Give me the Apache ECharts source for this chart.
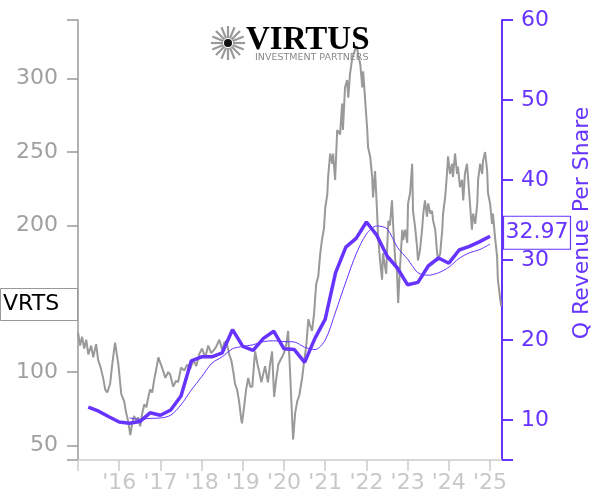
<!DOCTYPE html>
<html><head><meta charset="utf-8">
<script src="https://cdn.jsdelivr.net/npm/echarts@6/dist/echarts.min.js"></script>
<style>html,body{margin:0;padding:0;background:#fff}#c{width:600px;height:500px}</style>
</head><body><div id="c"></div>
<script>
const ticker = 'VRTS';
const rightAxisTitle = 'Q Revenue Per Share';

// Daily closing price (decimal year, USD)
const priceDates = [
2015.00,2015.05,2015.10,2015.15,2015.20,2015.25,2015.32,2015.37,2015.44,2015.49,
2015.54,2015.61,2015.66,2015.71,2015.78,2015.83,2015.90,2015.98,2016.05,2016.12,
2016.17,2016.22,2016.27,2016.32,2016.36,2016.41,2016.46,2016.51,2016.56,2016.61,
2016.66,2016.70,2016.75,2016.80,2016.85,2016.90,2016.95,2017.00,2017.04,2017.12,
2017.19,2017.24,2017.31,2017.38,2017.43,2017.50,2017.58,2017.65,2017.72,2017.80,
2017.87,2017.94,2018.01,2018.09,2018.16,2018.23,2018.30,2018.35,2018.43,2018.50,
2018.55,2018.60,2018.67,2018.72,2018.77,2018.81,2018.86,2018.91,2018.96,2018.98,
2019.03,2019.08,2019.13,2019.18,2019.23,2019.28,2019.30,2019.35,2019.40,2019.45,
2019.49,2019.54,2019.59,2019.61,2019.66,2019.71,2019.76,2019.81,2019.86,2019.91,
2019.95,2020.00,2020.05,2020.10,2020.15,2020.17,2020.22,2020.27,2020.32,2020.37,
2020.44,2020.49,2020.54,2020.59,2020.63,2020.68,2020.73,2020.78,2020.83,2020.88,
2020.92,2020.97,2021.00,2021.05,2021.07,2021.12,2021.17,2021.19,2021.24,2021.29,
2021.36,2021.41,2021.43,2021.48,2021.53,2021.56,2021.60,2021.65,2021.68,2021.73,
2021.77,2021.80,2021.85,2021.90,2021.92,2021.97,2022.02,2022.04,2022.09,2022.14,
2022.16,2022.21,2022.26,2022.28,2022.33,2022.38,2022.40,2022.48,2022.53,2022.57,
2022.62,2022.65,2022.70,2022.74,2022.77,2022.82,2022.87,2022.89,2022.94,2022.99,
2023.01,2023.06,2023.11,2023.13,2023.18,2023.23,2023.25,2023.30,2023.35,2023.38,
2023.42,2023.47,2023.50,2023.55,2023.59,2023.62,2023.67,2023.71,2023.74,2023.79,
2023.84,2023.86,2023.91,2023.96,2023.98,2024.03,2024.08,2024.10,2024.15,2024.20,
2024.22,2024.27,2024.32,2024.35,2024.39,2024.44,2024.47,2024.52,2024.56,2024.59,
2024.64,2024.69,2024.71,2024.76,2024.81,2024.83,2024.88,2024.93,2024.95,2025.00,
2025.05,2025.07,2025.12,2025.17,2025.19,2025.24,2025.27];
const priceValues = [
127,118,124,116,122,112,118,110,119,108,
104,96,88,86,92,105,120,105,85,80,
72,66,57,66,70,67,69,63,72,78,
76,82,88,86,95,102,110,106,103,96,
100,98,90,94,93,103,101,105,102,108,
104,112,116,110,118,113,115,117,122,115,
120,121,112,108,100,92,88,80,68,65,
76,88,96,90,90,108,114,106,100,93,
98,104,96,93,105,114,83,95,105,108,
110,113,118,128,98,85,54,72,80,84,
96,108,118,136,132,128,140,160,165,181,
190,198,212,221,233,249,242,249,231,265,
262,283,265,294,299,287,303,313,316,320,
322,316,310,294,305,285,265,253,247,233,
219,237,208,194,176,163,181,167,203,200,
217,199,176,169,147,174,197,190,197,188,
215,222,242,210,199,185,176,183,197,208,
217,206,215,208,210,203,197,183,176,181,
197,208,219,237,247,235,242,233,249,235,
240,226,231,217,235,242,231,212,197,208,
201,215,231,242,235,244,250,237,222,215,
201,208,192,179,163,151,145];

// Quarterly revenue per share (quarter end as decimal year)
const revQuarters = [2015.25,2015.5,2015.75,2016.0,2016.25,2016.5,2016.75,2017.0,2017.25,2017.5,
2017.75,2018.0,2018.25,2018.5,2018.75,2019.0,2019.25,2019.5,2019.75,2020.0,
2020.25,2020.5,2020.75,2021.0,2021.25,2021.5,2021.75,2022.0,2022.25,2022.5,
2022.75,2023.0,2023.25,2023.5,2023.75,2024.0,2024.25,2024.5,2024.75,2025.0];
const revValues = [11.6,11.1,10.4,9.75,9.6,9.8,10.9,10.6,11.25,13.0,
17.4,17.9,17.9,18.4,21.3,19.2,18.7,20.2,21.1,18.9,
18.8,17.2,20.2,22.6,28.4,31.6,32.7,34.75,33.1,30.5,
29.0,26.9,27.2,29.25,30.25,29.6,31.25,31.7,32.3,32.97];

// Thin trailing line of revenue per share
const avgQuarters = [2016.25,2016.5,2016.75,2017.0,2017.25,2017.5,
2017.75,2018.0,2018.25,2018.5,2018.75,2019.0,2019.25,2019.5,2019.75,2020.0,
2020.25,2020.5,2020.75,2021.0,2021.25,2021.5,2021.75,2022.0,2022.25,2022.5,
2022.75,2023.0,2023.25,2023.5,2023.75,2024.0,2024.25,2024.5,2024.75,2025.0];
const avgValues = [10.25,10.1,10.2,10.25,10.6,11.9,
13.75,15.4,17.1,17.9,18.9,19.2,19.4,19.8,19.9,19.8,
19.75,19.1,18.8,20.0,23.5,27.25,30.75,33.25,34.25,33.9,
31.6,30.1,28.4,28.1,28.4,29.1,30.2,30.9,31.3,32.0];

const leftTickLabels = [50,100,200,250,300];
const leftTickMarks = [40,50,100,150,200,250,300,340];
const rightTickLabels = [10,20,30,40,50,60];
const rightTickMarks = [5,10,20,30,40,50,60];

const GRAY = '#999999';
const PURPLE = '#6633ff';
const FONT = 'DejaVu Sans';

const zip = (a, b) => a.map((v, i) => [v, b[i]]);

const chart = echarts.init(document.getElementById('c'), null, {renderer: 'canvas'});

function starRays() {
  const els = [];
  const cx = 228, cy = 43, n = 16;
  for (let i = 0; i < n; i++) {
    const a = i * Math.PI * 2 / n;
    els.push({type: 'line', shape: {x1: cx + Math.cos(a) * 5, y1: cy + Math.sin(a) * 5,
      x2: cx + Math.cos(a) * 17, y2: cy + Math.sin(a) * 17},
      style: {stroke: '#9a9a9a', lineWidth: 2.2}, z: 100});
  }
  els.push({type: 'circle', shape: {cx: cx, cy: cy, r: 4}, style: {fill: '#111'}, z: 101});
  return els;
}

chart.setOption({
  animation: false,
  backgroundColor: '#fff',
  grid: {left: 78, right: 98, top: 20, bottom: 40},
  xAxis: {
    type: 'value', min: 2015, max: 2025.29, interval: 1,
    axisLine: {onZero: false, lineStyle: {color: '#cccccc', width: 1.5}},
    axisTick: {length: 11, lineStyle: {color: '#cccccc', width: 1.5}},
    axisLabel: {formatter: v => v === 2015 ? '' : "'" + String(v).slice(2),
      color: '#c8c8c8', fontSize: 22, fontFamily: FONT, margin: 12},
    splitLine: {show: false}
  },
  yAxis: [{
    type: 'value', min: 40, max: 340, position: 'left',
    axisLine: {show: true, onZero: false, lineStyle: {color: GRAY, width: 1.5}},
    axisTick: {show: true, length: 11, customValues: leftTickMarks, lineStyle: {color: GRAY, width: 1.5}},
    axisLabel: {customValues: leftTickLabels, color: '#a0a0a0', fontSize: 22, fontFamily: FONT, margin: 20},
    splitLine: {show: false}
  }, {
    type: 'value', min: 5, max: 60, position: 'right',
    axisLine: {show: true, onZero: false, lineStyle: {color: PURPLE, width: 2}},
    axisTick: {show: true, length: 11, customValues: rightTickMarks, lineStyle: {color: PURPLE, width: 2}},
    axisLabel: {customValues: rightTickLabels, color: PURPLE, fontSize: 22, fontFamily: FONT, margin: 19},
    splitLine: {show: false}
  }],
  series: [{
    name: 'Price', type: 'line', yAxisIndex: 0, data: zip(priceDates, priceValues),
    showSymbol: false, lineStyle: {color: GRAY, width: 2}, z: 2
  }, {
    name: 'Avg', type: 'line', yAxisIndex: 1, data: zip(avgQuarters, avgValues),
    showSymbol: false, smooth: 0.3, lineStyle: {color: PURPLE, width: 1}, z: 3
  }, {
    name: 'Rev', type: 'line', yAxisIndex: 1, data: zip(revQuarters, revValues),
    showSymbol: false, lineStyle: {color: PURPLE, width: 3.5}, z: 4
  }],
  graphic: [
    ...starRays(),
    {type: 'text', z: 100, style: {x: 246, y: 40, text: 'VIRTUS', font: 'bold 33px "Liberation Serif"',
      fill: '#000', verticalAlign: 'middle', align: 'left'}},
    {type: 'text', z: 100, style: {x: 255, y: 58, text: 'INVESTMENT PARTNERS', font: '9.5px "DejaVu Sans"',
      fill: '#888888', verticalAlign: 'middle', align: 'left'}},
    {type: 'text', z: 100, x: 582, y: 223, rotation: Math.PI / 2,
      style: {x: 0, y: 0, text: rightAxisTitle, font: '22px "DejaVu Sans"', fill: PURPLE,
        align: 'center', verticalAlign: 'middle'}}
  ]
});

const lastPrice = priceValues[priceValues.length - 1];
const lastRev = revValues[revValues.length - 1];
const yPrice = chart.convertToPixel({yAxisIndex: 0}, lastPrice);
const yRev = chart.convertToPixel({yAxisIndex: 1}, lastRev);

chart.setOption({
  graphic: [
    {type: 'rect', id: 'tbox', z: 200, shape: {x: 0.5, y: yPrice - 17.5, width: 77, height: 32},
      style: {fill: '#fff', stroke: '#999', lineWidth: 1}},
    {type: 'text', id: 'ttxt', z: 201, style: {x: 3, y: yPrice - 1.5, text: ticker, font: '22px "DejaVu Sans"',
      fill: '#000', verticalAlign: 'middle', align: 'left'}},
    {type: 'rect', id: 'rbox', z: 200, shape: {x: 503.5, y: yRev - 20, width: 67, height: 33},
      style: {fill: '#fff', stroke: PURPLE, lineWidth: 1.2}},
    {type: 'text', id: 'rtxt', z: 201, style: {x: 537, y: yRev - 3.5, text: lastRev.toFixed(2), font: '22px "DejaVu Sans"',
      fill: PURPLE, verticalAlign: 'middle', align: 'center'}}
  ]
});
</script>
</body></html>
